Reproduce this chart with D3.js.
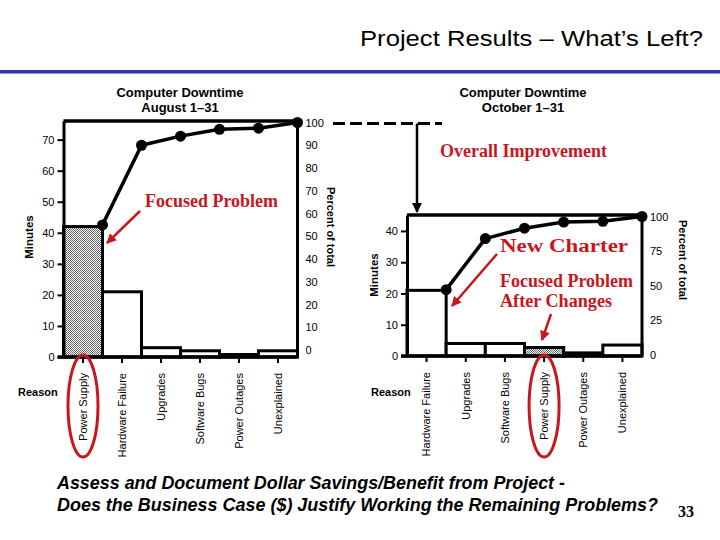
<!DOCTYPE html>
<html>
<head>
<meta charset="utf-8">
<script src="https://cdn.jsdelivr.net/npm/d3@7"></script>
<style>
  html, body { margin: 0; padding: 0; background: #fff; }
  svg { display: block; font-family: "Liberation Sans", Arial, sans-serif; }
</style>
</head>
<body>
<div id="chart"></div>
<script>
// ---------------- data ----------------
const augCategories = ["Power Supply", "Hardware Failure", "Upgrades", "Software Bugs", "Power Outages", "Unexplained"];
const augMinutes    = [42, 21, 3, 2, 0.8, 2];
const augCumPercent = [55, 90, 94, 97, 97.5, 100];
const augMinuteTicks  = [0, 10, 20, 30, 40, 50, 60, 70];
const augPercentTicks = [0, 10, 20, 30, 40, 50, 60, 70, 80, 90, 100];

const octCategories = ["Hardware Failure", "Upgrades", "Software Bugs", "Power Supply", "Power Outages", "Unexplained"];
const octMinutes    = [21, 4, 4, 2.7, 1, 3.5];
const octCumPercent = [47, 84, 91.5, 96, 96.5, 100];
const octMinuteTicks  = [0, 10, 20, 30, 40];
const octPercentTicks = [0, 25, 50, 75, 100];

const focusCategory = "Power Supply";

// ---------------- setup ----------------
const W = 720, H = 540;
const RED = "#c8161d";
const SANS = "'Liberation Sans', Arial, sans-serif";
const SERIF = "'Liberation Serif', 'Times New Roman', serif";
const svg = d3.select("#chart").append("svg").attr("width", W).attr("height", H);
svg.append("rect").attr("width", W).attr("height", H).attr("fill", "#fff");

const defs = svg.append("defs");
const pat = defs.append("pattern").attr("id", "dots").attr("patternUnits", "userSpaceOnUse")
  .attr("width", 2).attr("height", 2);
pat.append("rect").attr("width", 2).attr("height", 2).attr("fill", "#fff");
pat.append("rect").attr("width", 1).attr("height", 1).attr("fill", "#666");
pat.append("rect").attr("x", 1).attr("y", 1).attr("width", 1).attr("height", 1).attr("fill", "#666");

defs.append("marker").attr("id", "redArrow").attr("viewBox", "0 0 10 10")
  .attr("refX", 9).attr("refY", 5).attr("markerWidth", 4).attr("markerHeight", 4)
  .attr("orient", "auto").attr("markerUnits", "strokeWidth")
  .append("path").attr("d", "M0,0 L10,5 L0,10 z").attr("fill", RED);
defs.append("marker").attr("id", "blackArrow").attr("viewBox", "0 0 10 10")
  .attr("refX", 9).attr("refY", 5).attr("markerWidth", 4).attr("markerHeight", 4)
  .attr("orient", "auto").attr("markerUnits", "strokeWidth")
  .append("path").attr("d", "M0,0 L10,5 L0,10 z").attr("fill", "#000");

// ---------------- header ----------------
svg.append("text").attr("x", 360).attr("y", 46)
  .style("font-family", SANS).style("font-size", "22px").style("font-weight", "normal")
  .attr("textLength", 343).attr("lengthAdjust", "spacingAndGlyphs")
  .text("Project Results – What’s Left?");
svg.append("rect").attr("x", 0).attr("y", 70).attr("width", W).attr("height", 3.5).attr("fill", "#3535a6");

// ---------------- pareto drawer ----------------
function pareto(cfg) {
  const g = svg.append("g");
  const x = d3.scaleBand().domain(cfg.categories).range([cfg.x0, cfg.x1]).padding(0);
  const yM = d3.scaleLinear().domain([0, cfg.minuteMax]).range([cfg.yBase, cfg.yTop]);
  const yP = d3.scaleLinear().domain([0, 100]).range(cfg.pctRange);

  // titles
  g.append("text").attr("x", cfg.titleX).attr("y", 97).attr("text-anchor", "middle")
    .style("font-size", "13px").style("font-weight", "bold").text("Computer Downtime");
  g.append("text").attr("x", cfg.titleX).attr("y", 112).attr("text-anchor", "middle")
    .style("font-size", "13px").style("font-weight", "bold").text(cfg.subtitle);

  // bars
  g.selectAll("rect.bar").data(cfg.categories).join("rect").attr("class", "bar")
    .attr("x", d => x(d)).attr("width", x.bandwidth())
    .attr("y", (d, i) => yM(cfg.minutes[i]))
    .attr("height", (d, i) => yM(0) - yM(cfg.minutes[i]))
    .attr("fill", d => d === focusCategory ? "url(#dots)" : "#fff")
    .attr("stroke", "#000").attr("stroke-width", 3);

  // frame: top line and right axis line
  g.append("line").attr("x1", cfg.x0).attr("x2", cfg.x1).attr("y1", cfg.yTop).attr("y2", cfg.yTop)
    .attr("stroke", "#000").attr("stroke-width", 3.5);
  g.append("line").attr("x1", cfg.x1).attr("x2", cfg.x1).attr("y1", cfg.yTop).attr("y2", cfg.yBase)
    .attr("stroke", "#000").attr("stroke-width", 3);

  // left axis
  const la = g.append("g").attr("transform", `translate(${cfg.x0},0)`)
    .call(d3.axisLeft(yM).tickValues(cfg.minuteTicks).tickSize(6).tickSizeOuter(0).tickPadding(3));
  la.select(".domain").attr("stroke-width", 3);
  la.selectAll(".tick line").attr("stroke-width", 2);
  la.selectAll("text").style("font-size", "11px").style("font-family", SANS);

  // right axis
  const ra = g.append("g").attr("transform", `translate(${cfg.x1},0)`)
    .call(d3.axisRight(yP).tickValues(cfg.percentTicks).tickSize(0).tickPadding(8));
  ra.select(".domain").remove();
  ra.selectAll("text").style("font-size", "11px").style("font-family", SANS);

  // bottom axis
  const ba = g.append("g").attr("transform", `translate(0,${cfg.yBase})`)
    .call(d3.axisBottom(x).tickSize(6).tickSizeOuter(0));
  ba.select(".domain").remove();
  ba.selectAll(".tick line").attr("stroke-width", 2);
  ba.selectAll("text").style("font-size", "11px").style("font-family", SANS)
    .attr("transform", "rotate(-90)").attr("x", -16).attr("y", 0).attr("dy", "0.35em")
    .attr("text-anchor", "end");
  g.append("line").attr("x1", cfg.x0 - 6).attr("x2", cfg.x1).attr("y1", cfg.yBase).attr("y2", cfg.yBase)
    .attr("stroke", "#000").attr("stroke-width", 3.5);

  // cumulative line
  const pts = cfg.categories.map((c, i) => [x(c) + x.bandwidth(), yP(cfg.cumPercent[i])]);
  g.append("path").attr("d", d3.line()(pts)).attr("fill", "none")
    .attr("stroke", "#000").attr("stroke-width", 3.5).attr("stroke-linejoin", "round");
  g.selectAll("circle.pt").data(pts).join("circle").attr("class", "pt")
    .attr("cx", d => d[0]).attr("cy", d => d[1]).attr("r", 5.5).attr("fill", "#000");

  // axis titles
  g.append("text").attr("transform", `translate(${cfg.minLabelX},${cfg.minLabelY}) rotate(-90)`)
    .attr("text-anchor", "middle").style("font-size", "11.5px").style("font-weight", "bold").text("Minutes");
  g.append("text").attr("transform", `translate(${cfg.pctLabelX},${cfg.pctLabelY}) rotate(90)`)
    .attr("text-anchor", "middle").attr("dy", "0.35em").style("font-size", "11px").style("font-weight", "bold")
    .text("Percent of total");
  g.append("text").attr("x", cfg.reasonX).attr("y", 396)
    .style("font-size", "11px").style("font-weight", "bold").text("Reason");

  // red ellipse around focus category label
  const cx = x(focusCategory) + x.bandwidth() / 2;
  g.append("ellipse").attr("cx", cx).attr("cy", 406).attr("rx", 15).attr("ry", 51)
    .attr("fill", "none").attr("stroke", RED).attr("stroke-width", 3);

  return { x, yM, yP };
}

const aug = pareto({
  categories: augCategories, minutes: augMinutes, cumPercent: augCumPercent,
  minuteTicks: augMinuteTicks, percentTicks: augPercentTicks,
  x0: 63.5, x1: 297.5, yBase: 357, yTop: 121, minuteMax: 76, pctRange: [350, 122.5],
  titleX: 180, subtitle: "August 1–31",
  minLabelX: 33, minLabelY: 237, pctLabelX: 331, pctLabelY: 227, reasonX: 18
});

const oct = pareto({
  categories: octCategories, minutes: octMinutes, cumPercent: octCumPercent,
  minuteTicks: octMinuteTicks, percentTicks: octPercentTicks,
  x0: 407, x1: 642, yBase: 356, yTop: 215, minuteMax: 45.1, pctRange: [354.5, 216.5],
  titleX: 523, subtitle: "October 1–31",
  minLabelX: 378, minLabelY: 275, pctLabelX: 683, pctLabelY: 260, reasonX: 371
});

// ---------------- connector ----------------
const yConn = aug.yP(100) + 1;
svg.append("line").attr("x1", 333).attr("x2", 442).attr("y1", yConn).attr("y2", yConn)
  .attr("stroke", "#000").attr("stroke-width", 3).attr("stroke-dasharray", "12,5");
svg.append("line").attr("x1", 417).attr("x2", 417).attr("y1", yConn).attr("y2", 212)
  .attr("stroke", "#000").attr("stroke-width", 2.5).attr("marker-end", "url(#blackArrow)");

// ---------------- annotations ----------------
function redText(x, y, s, len) {
  svg.append("text").attr("x", x).attr("y", y)
    .style("font-family", SERIF).style("font-size", "18px").style("font-weight", "bold")
    .attr("fill", RED)
    .attr("textLength", len).attr("lengthAdjust", "spacingAndGlyphs").text(s);
}
function redArrow(x1, y1, x2, y2) {
  svg.append("line").attr("x1", x1).attr("y1", y1).attr("x2", x2).attr("y2", y2)
    .attr("stroke", RED).attr("stroke-width", 2.5).attr("marker-end", "url(#redArrow)");
}
redText(440, 157, "Overall Improvement", 167);
redText(145, 207, "Focused Problem", 133);
redArrow(140, 211, 107, 243);
redText(500, 252, "New Charter", 128);
redArrow(497, 254, 452, 306);
redText(500, 287, "Focused Problem", 133);
redText(500, 307, "After Changes", 112);
redArrow(551, 314, 542, 340);

// ---------------- footer ----------------
svg.append("text").attr("x", 57).attr("y", 489)
  .style("font-size", "18px").style("font-weight", "bold").style("font-style", "italic")
  .attr("textLength", 508).attr("lengthAdjust", "spacingAndGlyphs")
  .text("Assess and Document Dollar Savings/Benefit from Project -");
svg.append("text").attr("x", 57).attr("y", 511)
  .style("font-size", "18px").style("font-weight", "bold").style("font-style", "italic")
  .attr("textLength", 601).attr("lengthAdjust", "spacingAndGlyphs")
  .text("Does the Business Case ($) Justify Working the Remaining Problems?");
svg.append("text").attr("x", 678).attr("y", 517)
  .style("font-family", SERIF).style("font-size", "16px").style("font-weight", "bold").text("33");
</script>
</body>
</html>
